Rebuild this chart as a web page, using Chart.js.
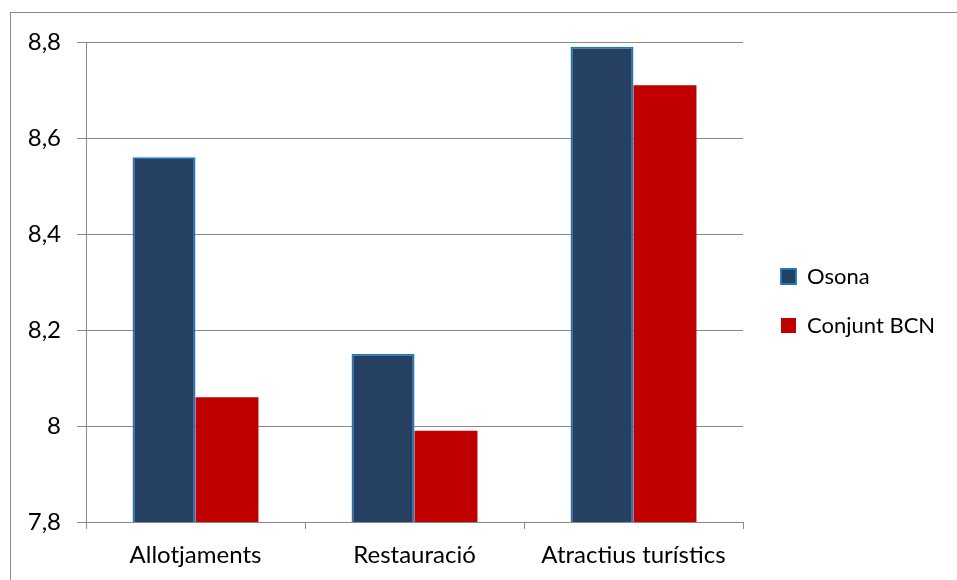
<!DOCTYPE html>
<html><head><meta charset="utf-8">
<script src="https://cdn.jsdelivr.net/npm/chart.js@4.4.1/dist/chart.umd.min.js"></script>
<style>
html,body{margin:0;padding:0;background:#fff;overflow:hidden;width:957px;height:580px;}
#frame{position:absolute;left:10px;top:12px;width:980px;height:620px;border:1px solid #8a8a8a;box-sizing:border-box;}
#wrap{position:absolute;left:0;top:0;width:957px;height:580px;}
</style></head><body>
<div id="frame"></div>
<div id="wrap"><canvas id="c" width="957" height="580"></canvas></div>
<script>
const categories = ['Allotjaments', 'Restauració', 'Atractius turístics'];
const seriesNames = ['Osona', 'Conjunt BCN'];
const osona = [8.56, 8.15, 8.79];
const conjuntBCN = [8.06, 7.99, 8.71];
const yTicks = [7.8, 8.0, 8.2, 8.4, 8.6, 8.8];

const FONT = 'Lato, "DejaVu Sans", sans-serif';
const GRID = '#8a8a8a';

const legendFix = {
  id: 'legendFix',
  beforeLayout(chart) {
    const lg = chart.legend;
    if (lg && !lg._wrapped) {
      const orig = lg.fit;
      lg.fit = function () { orig.call(this); this.width = 214; };
      lg._wrapped = true;
    }
  },
  afterLayout(chart) {
    const lg = chart.legend;
    if (!lg) return;
    const dx = 11, dy = -10;
    lg.left += dx; lg.right += dx; lg.top += dy; lg.bottom += dy;
  }
};

new Chart(document.getElementById('c'), {
  type: 'bar',
  data: {
    labels: categories,
    datasets: [
      { label: seriesNames[0], data: osona, backgroundColor: '#264061', borderColor: '#1F77C4', borderWidth: 1.8, categoryPercentage: 0.575, barPercentage: 1 },
      { label: seriesNames[1], data: conjuntBCN, backgroundColor: '#C00000', borderColor: '#C00000', borderWidth: 0, categoryPercentage: 0.575, barPercentage: 1 }
    ]
  },
  options: {
    responsive: false,
    animation: false,
    events: [],
    layout: { padding: { top: 42, left: 0, right: 0, bottom: 0 } },
    plugins: {
      tooltip: { enabled: false },
      legend: {
        position: 'right',
        align: 'center',
        labels: { font: { family: FONT, size: 22 }, color: '#000', boxWidth: 15, boxHeight: 15, padding: 27 }
      }
    },
    scales: {
      x: {
        offset: true,
        grid: { display: true, drawOnChartArea: false, drawTicks: true, tickLength: 7, color: GRID, offset: true },
        border: { display: true, color: GRID, width: 1 },
        ticks: { font: { family: FONT, size: 24 }, color: '#000', padding: 12, maxRotation: 0, autoSkip: false },
        afterFit(s) { s.height = 58; }
      },
      y: {
        min: 7.8, max: 8.8,
        afterBuildTicks(s) { s.ticks = yTicks.map(v => ({ value: v })); },
        grid: { color: GRID, tickLength: 9, lineWidth: 1 },
        border: { display: true, color: GRID, width: 1 },
        ticks: {
          font: { family: FONT, size: 24 }, color: '#000', padding: 16,
          callback: v => String(Number(v.toFixed(1))).replace('.', ',')
        },
        afterFit(s) { s.width = 86; }
      }
    }
  },
  plugins: [legendFix]
});
</script>
</body></html>
